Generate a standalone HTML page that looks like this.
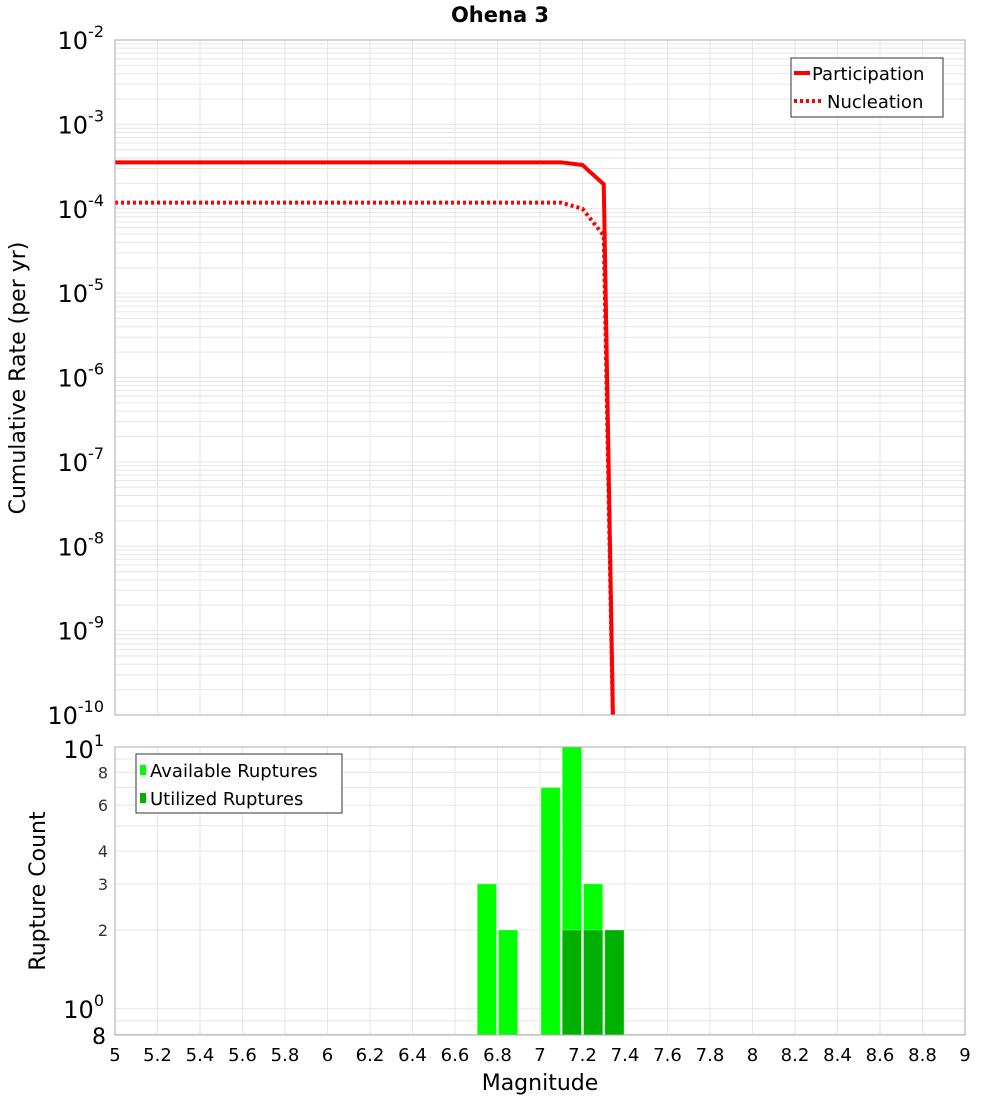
<!DOCTYPE html>
<html><head><meta charset="utf-8"><style>
body{margin:0;background:#fff;font-family:"Liberation Sans","DejaVu Sans",sans-serif}
svg text{font-family:"DejaVu Sans","Liberation Sans",sans-serif}
</style></head><body>
<svg id="c" width="1000" height="1100" xmlns="http://www.w3.org/2000/svg">
<rect width="1000" height="1100" fill="#fff"/>
<text x="500" y="22" text-anchor="middle" font-size="21" font-weight="bold">Ohena 3</text>
<g id="topg"></g><g id="botg"></g>
</svg>
<script>
const mags=[5,7.1,7.2,7.3,7.35];
const partRate=[3.55e-4,3.55e-4,3.3e-4,1.95e-4,1e-11];
const nuclRate=[1.18e-4,1.18e-4,1.0e-4,4.8e-5,1e-11];
const binStarts=[6.7,6.8,7.0,7.1,7.2,7.3];
const availCounts=[3,2,7,10,3,2];
const utilCounts=[0,0,0,2,2,2];
const xTicks=[5,5.2,5.4,5.6,5.8,6,6.2,6.4,6.6,6.8,7,7.2,7.4,7.6,7.8,8,8.2,8.4,8.6,8.8,9];
const topExps=[-2,-3,-4,-5,-6,-7,-8,-9,-10];
const botTicks=[2,3,4,6,8];
const NS='http://www.w3.org/2000/svg';
const L=115,R=965;
const X=m=>L+(m-5)/4*(R-L);
const TY=v=>40+(-2-Math.log10(v))*(675/8);
const BY=v=>747+(1-Math.log10(v))*261.8;
function mk(p,t,a){const e=document.createElementNS(NS,t);for(const k in a)e.setAttribute(k,a[k]);p.appendChild(e);return e;}
const topG=document.getElementById('topg'),botG=document.getElementById('botg');
for(let e=-10;e<-2;e++)for(let k=1;k<10;k++){const y=TY(k*Math.pow(10,e));const g=mk(topG,'line',{x1:L,x2:R,y1:y,y2:y,stroke:'#e6e6e6','stroke-width':1});

}
xTicks.forEach(m=>{const g=mk(topG,'line',{x1:X(m),x2:X(m),y1:40,y2:715,stroke:'#e6e6e6'});


const g2=mk(botG,'line',{x1:X(m),x2:X(m),y1:747,y2:1035,stroke:'#e6e6e6'});


const t=mk(botG,'text',{x:X(m),y:1061,'text-anchor':'middle','font-size':18});t.textContent=String(m);

});
topExps.forEach(e=>{const y=TY(Math.pow(10,e));const t=mk(topG,'text',{x:104,y:y+9,'text-anchor':'end','font-size':24});t.innerHTML='10<tspan dy="-12" font-size="16">'+e+'</tspan>';

});
const yt=mk(topG,'text',{x:25,y:378,'text-anchor':'middle','font-size':22,transform:'rotate(-90 25 378)'});yt.textContent='Cumulative Rate (per yr)';


const cp=mk(topG,'clipPath',{id:'tc'});mk(cp,'rect',{x:L,y:40,width:R-L,height:675});
function line(vals,dash,name){const d=mags.map((m,i)=>(i?'L':'M')+X(m)+','+TY(vals[i])).join(' ');const p=mk(topG,'path',{d:d,fill:'none',stroke:'#ff0000','stroke-width':4,'clip-path':'url(#tc)'});if(dash)p.setAttribute('stroke-dasharray','3,3');

}
line(nuclRate,true,'nucleation-line');line(partRate,false,'participation-line');
mk(topG,'rect',{x:L,y:40,width:R-L,height:675,fill:'none',stroke:'#aaa'});
const lg=mk(topG,'g',{});


mk(lg,'rect',{x:791,y:58,width:152,height:59,fill:'#fff',stroke:'#333'});
mk(lg,'line',{x1:794,x2:810,y1:73,y2:73,stroke:'#f00','stroke-width':4});
mk(lg,'line',{x1:794,x2:822,y1:101,y2:101,stroke:'#f00','stroke-width':4,'stroke-dasharray':'3,3'});
let t1=mk(lg,'text',{x:812,y:80,'font-size':18});t1.textContent='Participation';
let t2=mk(lg,'text',{x:827,y:108,'font-size':18});t2.textContent='Nucleation';
for(let k=8;k<=10;k++){const y=BY(k/10);mk(botG,'line',{x1:L,x2:R,y1:y,y2:y,stroke:'#e6e6e6'});}
for(let k=2;k<=9;k++){const y=BY(k);mk(botG,'line',{x1:L,x2:R,y1:y,y2:y,stroke:'#e6e6e6'});}
const bw=X(5.1)-X(5);
function bars(c,col,name){binStarts.forEach((m,i)=>{if(c[i]<=0)return;const y=BY(c[i]);const r=mk(botG,'rect',{x:X(m)+1,y:y,width:bw-2,height:1035-y,fill:col,stroke:'rgba(255,255,255,0.3)'});

});}
bars(availCounts,'#00ff00','available-bar');bars(utilCounts,'#00b000','utilized-bar');
mk(botG,'rect',{x:L,y:747,width:R-L,height:288,fill:'none',stroke:'#aaa'});
botTicks.forEach(v=>{const t=mk(botG,'text',{x:108,y:BY(v)+6,'text-anchor':'end','font-size':16,fill:'#333'});t.textContent=v;

});
let a=mk(botG,'text',{x:104,y:758,'text-anchor':'end','font-size':24});a.innerHTML='10<tspan dy="-12" font-size="16">1</tspan>';
let b=mk(botG,'text',{x:104,y:1018,'text-anchor':'end','font-size':24});b.innerHTML='10<tspan dy="-12" font-size="16">0</tspan>';
let c8=mk(botG,'text',{x:106,y:1044,'text-anchor':'end','font-size':22});c8.textContent='8';
const by=mk(botG,'text',{x:45,y:891,'text-anchor':'middle','font-size':22,transform:'rotate(-90 45 891)'});by.textContent='Rupture Count';


const xt=mk(botG,'text',{x:540,y:1090,'text-anchor':'middle','font-size':22});xt.textContent='Magnitude';


const lb=mk(botG,'g',{});


mk(lb,'rect',{x:136,y:754,width:206,height:59,fill:'#fff',stroke:'#333'});
mk(lb,'rect',{x:140,y:765,width:6,height:10,fill:'#00ff00'});
mk(lb,'rect',{x:140,y:793,width:6,height:10,fill:'#00b000'});
let u1=mk(lb,'text',{x:150,y:777,'font-size':18});u1.textContent='Available Ruptures';
let u2=mk(lb,'text',{x:150,y:805,'font-size':18});u2.textContent='Utilized Ruptures';
</script>
</body></html>
